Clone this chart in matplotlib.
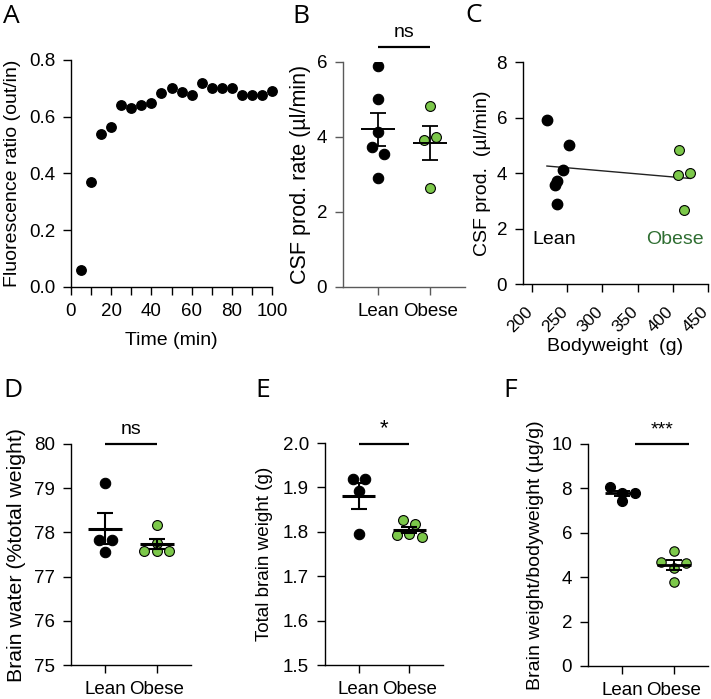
import numpy as np
import matplotlib
matplotlib.use('Agg')
import matplotlib.pyplot as plt
import matplotlib.transforms as mtransforms

plt.rcParams['font.family'] = ['Liberation Sans', 'DejaVu Sans']
plt.rcParams['axes.linewidth'] = 1.0

# ---------------- data ----------------
time_min = [5, 10, 15, 20, 25, 30, 35, 40, 45, 50, 55, 60, 65, 70, 75, 80, 85, 90, 95, 100]
fluor_ratio = [0.06, 0.37, 0.54, 0.565, 0.64, 0.632, 0.64, 0.65, 0.685, 0.70, 0.686, 0.678,
               0.72, 0.70, 0.70, 0.70, 0.675, 0.675, 0.675, 0.69]

groups = ['Lean', 'Obese']
csf_lean = [5.9, 5.02, 4.12, 3.72, 3.55, 2.9]
csf_obese = [4.82, 3.92, 4.0, 2.65]
bw_lean = [221, 252, 244, 236, 233, 236]
bw_obese = [409, 408, 425, 416]
water_lean = [79.12, 77.83, 77.83, 77.55]
water_obese = [78.16, 77.76, 77.57, 77.59, 77.57]
brainwt_lean = [1.919, 1.919, 1.892, 1.795]
brainwt_obese = [1.827, 1.817, 1.792, 1.795, 1.789]
ratio_lean = [8.05, 7.43, 7.81, 7.81]
ratio_obese = [5.18, 4.70, 4.40, 4.62, 3.80]

GREEN = '#7cc84a'
DKGREEN = '#2f6e32'

W, H = 711, 699
fig = plt.figure(figsize=(W / 100, H / 100), dpi=100)


def add_ax(left, top, right, bottom):
    ax = fig.add_axes([left / W, 1 - bottom / H, (right - left) / W, (bottom - top) / H])
    ax._px = (left, right)
    return ax


def style(ax, color='black'):
    ax.spines['top'].set_visible(False)
    ax.spines['right'].set_visible(False)
    for s in ('left', 'bottom'):
        ax.spines[s].set_color(color)
    ax.tick_params(which='both', direction='out', length=5.5, width=1.0, color=color,
                   labelsize=13.5, labelcolor='black', pad=6)


def ylab(ax, text, right_px, size=14):
    left, right = ax._px
    ax.set_ylabel(text, fontsize=size)
    ax.yaxis.set_label_coords((right_px - left) / (right - left), 0.5)


def row_offsets(ax, xc, ys, spacing=12.5, binh=7.0):
    """Place points in horizontal rows, centred on the column (pixel space)."""
    ys = np.asarray(ys, float)
    pix = ax.transData.transform(np.column_stack([np.full(len(ys), xc), ys]))
    py = pix[:, 1]
    order = np.argsort(py, kind='stable')
    rows = []
    cur = []
    start = None
    for i in order:
        if start is None or py[i] - start > binh:
            if cur:
                rows.append(cur)
            cur = [i]
            start = py[i]
        else:
            cur.append(i)
    if cur:
        rows.append(cur)
    xs = np.zeros(len(ys))
    inv = ax.transData.inverted()
    for r in rows:
        r = sorted(r)
        n = len(r)
        for k, i in enumerate(r):
            off = (k - (n - 1) / 2) * spacing
            xs[i] = inv.transform((pix[i, 0] + off, py[i]))[0]
    return xs


def dot_panel(ax, lean, obese, ms=7.3, mean_lw=1.6, err_lw=1.4):
    ax.set_xlim(-0.67, 1.67)
    for k, (vals, fc) in enumerate([(lean, 'black'), (obese, GREEN)]):
        xs = row_offsets(ax, k, vals)
        ax.plot(xs, vals, 'o', ms=ms if k == 0 else ms - 0.4, mfc=fc, mec='black', mew=0.8,
                ls='none', zorder=3)
        v = np.asarray(vals)
        m = v.mean()
        se = v.std(ddof=1) / np.sqrt(len(v))
        ax.plot([k - 0.33, k + 0.33], [m, m], color='black', lw=mean_lw, zorder=4,
                solid_capstyle='butt')
        ax.errorbar([k], [m], yerr=[se], fmt='none', ecolor='black', elinewidth=err_lw,
                    capsize=5.5, capthick=err_lw, zorder=4)
    ax.set_xticks([0, 1])
    ax.set_xticklabels(groups)


def sig(ax, x0, x1, y, text, fs=14):
    ax.plot([x0, x1], [y, y], color='black', lw=1.6, clip_on=False, solid_capstyle='butt')
    ax.annotate(text, xy=((x0 + x1) / 2, y), xytext=(0, 4), textcoords='offset points',
                ha='center', va='bottom', fontsize=fs, annotation_clip=False)


# ---------------- A ----------------
axA = add_ax(71, 60, 272, 287)
style(axA)
axA.plot(time_min, fluor_ratio, 'o', ms=6.8, color='black', ls='none', clip_on=False)
axA.set_xlim(0, 100)
axA.set_ylim(0, 0.8)
axA.set_xticks(np.arange(0, 101, 20))
axA.set_xticks(np.arange(0, 101, 10), minor=True)
axA.set_yticks(np.arange(0, 0.81, 0.2))
axA.set_yticklabels(['0.0', '0.2', '0.4', '0.6', '0.8'])
axA.set_xlabel('Time (min)', fontsize=14, labelpad=9)
ylab(axA, 'Fluorescence ratio (out/in)', 21, size=14)

# ---------------- B ----------------
axB = add_ax(343, 62, 465, 287)
style(axB, color='#5a5a5a')
axB.set_ylim(0, 6)
axB.set_yticks([0, 2, 4, 6])
dot_panel(axB, csf_lean, csf_obese, ms=7.5, mean_lw=1.4, err_lw=1.3)
ylab(axB, 'CSF prod. rate (µl/min)', 311, size=15.5)
sig(axB, 0, 1, 6.4, 'ns')

# ---------------- C ----------------
axC = add_ax(523, 62, 708, 284)
style(axC)
axC.set_xlim(187, 450)
axC.set_ylim(0, 8)
axC.set_yticks([0, 2, 4, 6, 8])
axC.set_xticks([200, 250, 300, 350, 400, 450])
axC.tick_params(axis='x', labelsize=12.5, pad=9)
shift = mtransforms.ScaledTranslation(-7 / 100, 0, fig.dpi_scale_trans)
for lab in axC.get_xticklabels():
    lab.set_rotation(45)
    lab.set_ha('right')
    lab.set_rotation_mode('anchor')
    lab.set_transform(lab.get_transform() + shift)
axC.plot(bw_lean, csf_lean, 'o', ms=7.5, color='black', ls='none', zorder=3)
axC.plot(bw_obese, csf_obese, 'o', ms=7.1, mfc=GREEN, mec='black', mew=0.8, ls='none', zorder=3)
allx = np.array(bw_lean + bw_obese, float)
ally = np.array(csf_lean + csf_obese, float)
slope, icpt = np.polyfit(allx, ally, 1)
xl = np.array([allx.min(), allx.max()])
axC.plot(xl, slope * xl + icpt, color='#222222', lw=1.0, zorder=2)
axC.text(201, 1.6, 'Lean', fontsize=14, color='black', va='center', ha='left')
axC.text(444, 1.6, 'Obese', fontsize=14, color=DKGREEN, va='center', ha='right')
axC.set_xlabel('Bodyweight  (g)', fontsize=14, labelpad=2)
ylab(axC, 'CSF prod.  (µl/min)', 491, size=14)

# ---------------- D ----------------
axD = add_ax(71, 444, 191, 665)
style(axD)
axD.set_ylim(75, 80)
axD.set_yticks([75, 76, 77, 78, 79, 80])
dot_panel(axD, water_lean, water_obese, ms=7.5, mean_lw=2.2, err_lw=1.5)
ylab(axD, 'Brain water (%total weight)', 26, size=15.3)
sig(axD, 0, 1, 80, 'ns')

# ---------------- E ----------------
axE = add_ax(325, 443, 443, 665)
style(axE)
axE.set_ylim(1.5, 2.0)
axE.set_yticks([1.5, 1.6, 1.7, 1.8, 1.9, 2.0])
dot_panel(axE, brainwt_lean, brainwt_obese, ms=7.5, mean_lw=2.2, err_lw=1.5)
ylab(axE, 'Total brain weight (g)', 273, size=13.6)
sig(axE, 0, 1, 1.997, '*', fs=16)

# ---------------- F ----------------
axF = add_ax(588, 444, 708, 666)
style(axF)
axF.set_ylim(0, 10)
axF.set_yticks([0, 2, 4, 6, 8, 10])
dot_panel(axF, ratio_lean, ratio_obese, ms=7.2, mean_lw=2.0, err_lw=1.4)
ylab(axF, 'Brain weight/bodyweight (µg/g)', 544, size=14)
sig(axF, 0.25, 1.3, 10, '***')

# ---------------- panel letters ----------------
for letter, x, y in [('A', 3, 23), ('B', 292, 23), ('C', 465, 22),
                     ('D', 3, 397), ('E', 255, 397), ('F', 503, 397)]:
    fig.text(x / W, 1 - y / H, letter, fontsize=19, family=['Open Sans', 'DejaVu Sans'],
             ha='left', va='baseline')

fig.savefig('out.png', dpi=100)
